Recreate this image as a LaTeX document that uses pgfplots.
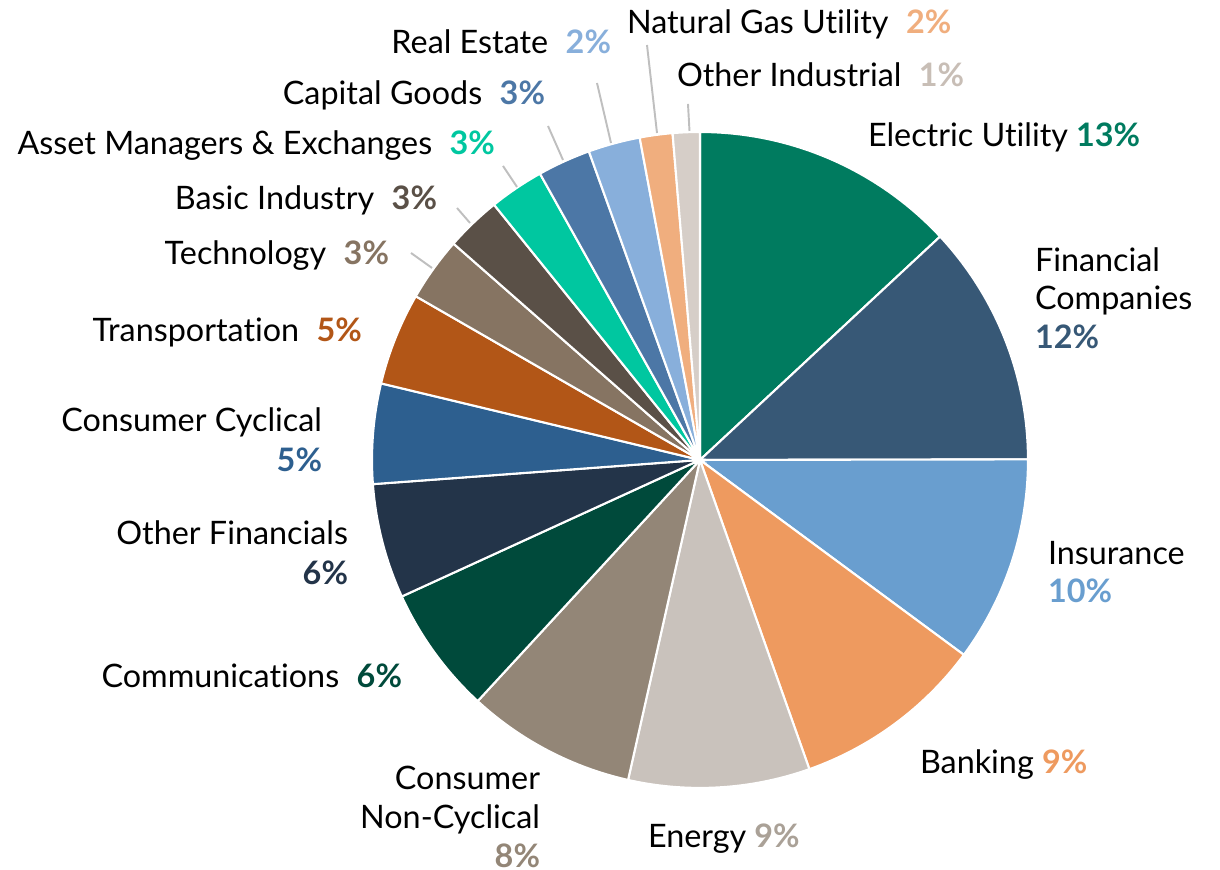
\documentclass[border=0pt]{standalone}
\usepackage{pgfplots}
\pgfplotsset{compat=1.18}
\usepackage{fontspec}
\setmainfont{Lato}[Ligatures=NoCommon]
\definecolor{cEU}{HTML}{007B5F}
\definecolor{cFC}{HTML}{375876}
\definecolor{cIns}{HTML}{699ECF}
\definecolor{cBank}{HTML}{EE9A5F}
\definecolor{cEn}{HTML}{C9C2BC}
\definecolor{cEnT}{HTML}{AAA197}
\definecolor{cCNC}{HTML}{938677}
\definecolor{cCom}{HTML}{004A3B}
\definecolor{cOF}{HTML}{233449}
\definecolor{cCC}{HTML}{2D5F8F}
\definecolor{cTr}{HTML}{B25617}
\definecolor{cTe}{HTML}{867462}
\definecolor{cBI}{HTML}{5A5047}
\definecolor{cAM}{HTML}{00C7A0}
\definecolor{cCG}{HTML}{4C77A6}
\definecolor{cRE}{HTML}{88AFDB}
\definecolor{cNG}{HTML}{F0AE7E}
\definecolor{cOI}{HTML}{D6CEC8}
\definecolor{cOIT}{HTML}{C8BEB6}
\definecolor{cLine}{HTML}{BFBFBF}
\tikzset{lbl/.style={inner sep=0pt, outer sep=0pt, font=\fontsize{9.2pt}{11pt}\selectfont}}
\begin{document}
\begin{tikzpicture}
\begin{axis}[scale only axis, width=12.2cm, height=8.7cm,
  xmin=0, xmax=1220, ymin=0, ymax=870, hide axis, clip=false,
  slice/.style={draw=white, line width=0.6pt, samples=60, variable=\t, forget plot}]
\path (axis cs:0,0) rectangle (axis cs:1220,870);
% slices: start and end angle (degrees, clockwise from top)
\addplot[slice, fill=cEU,  domain=0:47.06]      ({700+328*sin(t)},{410+328*cos(t)}) -- (axis cs:700,410) -- cycle;
\addplot[slice, fill=cFC,  domain=47.06:89.9]   ({700+328*sin(t)},{410+328*cos(t)}) -- (axis cs:700,410) -- cycle;
\addplot[slice, fill=cIns, domain=89.9:126.45]  ({700+328*sin(t)},{410+328*cos(t)}) -- (axis cs:700,410) -- cycle;
\addplot[slice, fill=cBank,domain=126.45:160.52]({700+328*sin(t)},{410+328*cos(t)}) -- (axis cs:700,410) -- cycle;
\addplot[slice, fill=cEn,  domain=160.52:192.67]({700+328*sin(t)},{410+328*cos(t)}) -- (axis cs:700,410) -- cycle;
\addplot[slice, fill=cCNC, domain=192.67:222.67]({700+328*sin(t)},{410+328*cos(t)}) -- (axis cs:700,410) -- cycle;
\addplot[slice, fill=cCom, domain=222.67:245.4] ({700+328*sin(t)},{410+328*cos(t)}) -- (axis cs:700,410) -- cycle;
\addplot[slice, fill=cOF,  domain=245.4:265.77] ({700+328*sin(t)},{410+328*cos(t)}) -- (axis cs:700,410) -- cycle;
\addplot[slice, fill=cCC,  domain=265.77:283.5] ({700+328*sin(t)},{410+328*cos(t)}) -- (axis cs:700,410) -- cycle;
\addplot[slice, fill=cTr,  domain=283.5:299.94] ({700+328*sin(t)},{410+328*cos(t)}) -- (axis cs:700,410) -- cycle;
\addplot[slice, fill=cTe,  domain=299.94:311.27]({700+328*sin(t)},{410+328*cos(t)}) -- (axis cs:700,410) -- cycle;
\addplot[slice, fill=cBI,  domain=311.27:321.1] ({700+328*sin(t)},{410+328*cos(t)}) -- (axis cs:700,410) -- cycle;
\addplot[slice, fill=cAM,  domain=321.1:330.8]  ({700+328*sin(t)},{410+328*cos(t)}) -- (axis cs:700,410) -- cycle;
\addplot[slice, fill=cCG,  domain=330.8:340.2]  ({700+328*sin(t)},{410+328*cos(t)}) -- (axis cs:700,410) -- cycle;
\addplot[slice, fill=cRE,  domain=340.2:349.4]  ({700+328*sin(t)},{410+328*cos(t)}) -- (axis cs:700,410) -- cycle;
\addplot[slice, fill=cNG,  domain=349.4:355.2]  ({700+328*sin(t)},{410+328*cos(t)}) -- (axis cs:700,410) -- cycle;
\addplot[slice, fill=cOI,  domain=355.2:360]    ({700+328*sin(t)},{410+328*cos(t)}) -- (axis cs:700,410) -- cycle;
% leader lines
\addplot[color=cLine, line width=0.55pt, forget plot] coordinates {(688,766) (689.5,739)};
\addplot[color=cLine, line width=0.55pt, forget plot] coordinates {(647,825) (657,737)};
\addplot[color=cLine, line width=0.55pt, forget plot] coordinates {(597,787) (611,727)};
\addplot[color=cLine, line width=0.55pt, forget plot] coordinates {(548,744) (563,710)};
\addplot[color=cLine, line width=0.55pt, forget plot] coordinates {(503,704) (517,683)};
\addplot[color=cLine, line width=0.55pt, forget plot] coordinates {(457,662) (470,647)};
\addplot[color=cLine, line width=0.55pt, forget plot] coordinates {(411,617) (432,602)};
% labels
\node[lbl, anchor=base west] at (axis cs:627,836.5) {Natural Gas Utility\hspace{5pt}\textcolor{cNG}{\bfseries 2\%}};
\node[lbl, anchor=base east] at (axis cs:611,816.5) {Real Estate\hspace{5pt}\textcolor{cRE}{\bfseries 2\%}};
\node[lbl, anchor=base west] at (axis cs:677,783.5) {Other Industrial\hspace{5pt}\textcolor{cOIT}{\bfseries 1\%}};
\node[lbl, anchor=base east] at (axis cs:545,765.5) {Capital Goods\hspace{5pt}\textcolor{cCG}{\bfseries 3\%}};
\node[lbl, anchor=base west] at (axis cs:868,723.5) {Electric Utility \textcolor{cEU}{\bfseries 13\%}};
\node[lbl, anchor=base east] at (axis cs:495,715.5) {Asset Managers \& Exchanges\hspace{5pt}\textcolor{cAM}{\bfseries 3\%}};
\node[lbl, anchor=base east] at (axis cs:437,660.5) {Basic Industry\hspace{5pt}\textcolor{cBI}{\bfseries 3\%}};
\node[lbl, anchor=base east] at (axis cs:389,605.5) {Technology\hspace{5pt}\textcolor{cTe}{\bfseries 3\%}};
\node[lbl, anchor=base east] at (axis cs:362,528.5) {Transportation\hspace{5pt}\textcolor{cTr}{\bfseries 5\%}};
\node[lbl, anchor=base east] at (axis cs:322,438.5) {Consumer Cyclical};
\node[lbl, anchor=base east] at (axis cs:322,398.5) {\textcolor{cCC}{\bfseries 5\%}};
\node[lbl, anchor=base east] at (axis cs:348,325.5) {Other Financials};
\node[lbl, anchor=base east] at (axis cs:348,285.5) {\textcolor{cOF}{\bfseries 6\%}};
\node[lbl, anchor=base east] at (axis cs:402,182.5) {Communications\hspace{5pt}\textcolor{cCom}{\bfseries 6\%}};
\node[lbl, anchor=base east] at (axis cs:540,80.5) {Consumer};
\node[lbl, anchor=base east] at (axis cs:540,41.5) {Non-Cyclical};
\node[lbl, anchor=base east] at (axis cs:540,2.5) {\textcolor{cCNC}{\bfseries 8\%}};
\node[lbl, anchor=base west] at (axis cs:648,22.5) {Energy \textcolor{cEnT}{\bfseries 9\%}};
\node[lbl, anchor=base west] at (axis cs:920,96.5) {Banking \textcolor{cBank}{\bfseries 9\%}};
\node[lbl, anchor=base west] at (axis cs:1048,305.5) {Insurance};
\node[lbl, anchor=base west] at (axis cs:1048,267.5) {\textcolor{cIns}{\bfseries 10\%}};
\node[lbl, anchor=base west] at (axis cs:1035,598.5) {Financial};
\node[lbl, anchor=base west] at (axis cs:1035,560.5) {Companies};
\node[lbl, anchor=base west] at (axis cs:1035,521.5) {\textcolor{cFC}{\bfseries 12\%}};
\end{axis}
\end{tikzpicture}
\end{document}
